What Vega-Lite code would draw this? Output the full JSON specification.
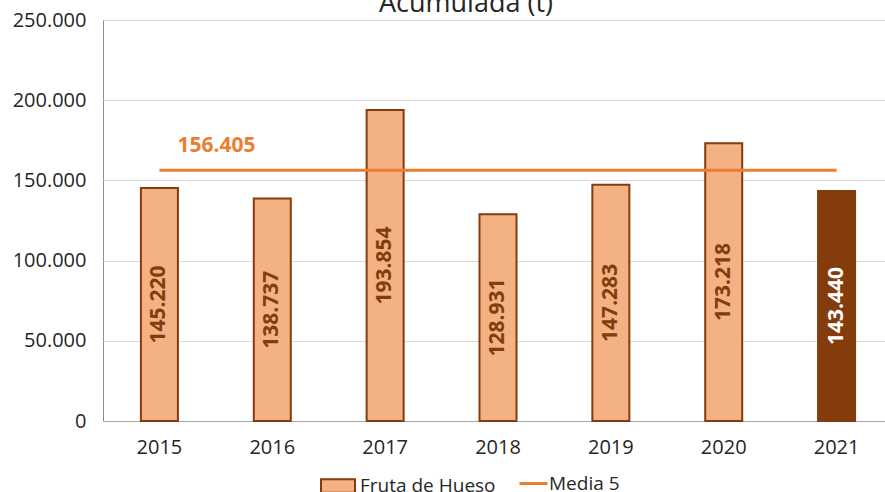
{
  "$schema": "https://vega.github.io/schema/vega-lite/v6.json",
  "autosize": {"type": "none"},
  "padding": {"left": 103, "top": 20, "right": 0, "bottom": 71},
  "width": 790,
  "height": 401,
  "background": "white",
  "config": {
    "font": "Open Sans",
    "view": {"stroke": "#8c8c8c", "strokeWidth": 1}
  },
  "title": {
    "text": "Acumulada (t)",
    "anchor": "middle",
    "dx": -32,
    "offset": -29,
    "baseline": "alphabetic",
    "fontSize": 27,
    "fontWeight": "normal",
    "color": "#262626"
  },
  "datasets": {
    "fruta": [
      {"year": "2015", "value": 145220, "label": "145.220", "serie": "Fruta de Hueso"},
      {"year": "2016", "value": 138737, "label": "138.737", "serie": "Fruta de Hueso"},
      {"year": "2017", "value": 193854, "label": "193.854", "serie": "Fruta de Hueso"},
      {"year": "2018", "value": 128931, "label": "128.931", "serie": "Fruta de Hueso"},
      {"year": "2019", "value": 147283, "label": "147.283", "serie": "Fruta de Hueso"},
      {"year": "2020", "value": 173218, "label": "173.218", "serie": "Fruta de Hueso"},
      {"year": "2021", "value": 143440, "label": "143.440", "serie": "Fruta de Hueso"}
    ],
    "media": [
      {"year": "2015", "value": 156405, "label": "156.405", "serie": "Media 5"},
      {"year": "2016", "value": 156405, "label": "156.405", "serie": "Media 5"},
      {"year": "2017", "value": 156405, "label": "156.405", "serie": "Media 5"},
      {"year": "2018", "value": 156405, "label": "156.405", "serie": "Media 5"},
      {"year": "2019", "value": 156405, "label": "156.405", "serie": "Media 5"},
      {"year": "2020", "value": 156405, "label": "156.405", "serie": "Media 5"},
      {"year": "2021", "value": 156405, "label": "156.405", "serie": "Media 5"}
    ]
  },
  "encoding": {
    "x": {
      "field": "year",
      "type": "ordinal",
      "scale": {"domain": ["2015","2016","2017","2018","2019","2020","2021"], "paddingInner": 0, "paddingOuter": 0},
      "axis": {
        "title": null,
        "labelAngle": 0,
        "ticks": false,
        "domain": true,
        "domainColor": "#a6a6a6",
        "labelPadding": 16,
        "labelFontSize": 20,
        "labelColor": "#262626"
      }
    }
  },
  "layer": [
    {
      "data": {"name": "fruta"},
      "mark": {"type": "bar", "size": 37, "stroke": "#843C0C", "strokeWidth": 2},
      "encoding": {
        "y": {
          "field": "value",
          "type": "quantitative",
          "scale": {"domain": [0, 250000], "nice": false},
          "axis": {
            "title": null,
            "values": [0, 50000, 100000, 150000, 200000, 250000],
            "labelExpr": "replace(format(datum.value, ','), ',', '.')",
            "domain": false,
            "ticks": false,
            "gridColor": "#d9d9d9",
            "labelPadding": 17,
            "labelFontSize": 20,
            "labelColor": "#262626"
          }
        },
        "fill": {
          "condition": {"test": "datum.year === '2021'", "value": "#843C0C"},
          "field": "serie",
          "type": "nominal",
          "scale": {"domain": ["Fruta de Hueso"], "range": ["#F4B183"]},
          "legend": {
            "title": null,
            "orient": "none",
            "direction": "horizontal",
            "legendX": 217,
            "legendY": 448,
            "symbolType": "M-1,-0.4H1V0.4H-1Z",
            "symbolSize": 1156,
            "symbolStrokeColor": "#843C0C",
            "symbolStrokeWidth": 2,
            "symbolOpacity": 1,
            "labelFontSize": 19,
            "labelColor": "#262626",
            "labelOffset": 4
          }
        }
      }
    },
    {
      "data": {"name": "fruta"},
      "transform": [{"calculate": "datum.value / 2", "as": "mid"}],
      "mark": {"type": "text", "angle": 270, "fontSize": 21, "fontWeight": "bold", "align": "center", "baseline": "middle"},
      "encoding": {
        "y": {"field": "mid", "type": "quantitative"},
        "text": {"field": "label"},
        "color": {
          "condition": {"test": "datum.year === '2021'", "value": "#ffffff"},
          "value": "#843C0C"
        }
      }
    },
    {
      "data": {"name": "media"},
      "mark": {"type": "line", "strokeWidth": 3},
      "encoding": {
        "y": {"field": "value", "type": "quantitative"},
        "stroke": {
          "field": "serie",
          "type": "nominal",
          "scale": {"domain": ["Media 5"], "range": ["#ED7D31"]},
          "legend": {
            "title": null,
            "orient": "none",
            "direction": "horizontal",
            "legendX": 415,
            "legendY": 448,
            "symbolType": "stroke",
            "symbolSize": 784,
            "symbolStrokeWidth": 3,
            "labelFontSize": 19,
            "labelColor": "#262626",
            "labelOffset": 0
          }
        }
      }
    },
    {
      "data": {"name": "media"},
      "transform": [{"filter": "datum.year === '2015'"}],
      "mark": {"type": "text", "align": "left", "baseline": "middle", "dx": 18, "dy": -24, "fontSize": 21, "fontWeight": "bold", "color": "#ED7D31"},
      "encoding": {
        "y": {"field": "value", "type": "quantitative"},
        "text": {"field": "label"}
      }
    }
  ]
}
